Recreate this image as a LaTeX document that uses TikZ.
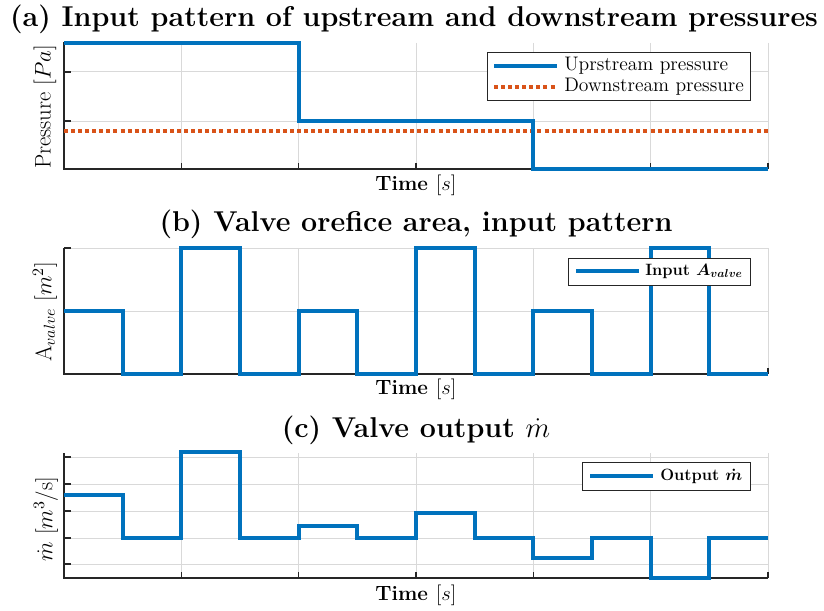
\RequirePackage{fix-cm}
\documentclass[tikz,border=0pt]{standalone}
\usepackage{fontspec}
\usepackage{amsmath}
\definecolor{mblue}{RGB}{0,114,189}
\definecolor{morange}{RGB}{217,83,25}
\definecolor{axcol}{RGB}{38,38,38}
\tikzset{
  gridline/.style={draw=black!15, line width=0.75pt},
  axisline/.style={draw=axcol, line width=1.4pt},
  tickline/.style={draw=axcol, line width=0.8pt},
  sig/.style={draw=mblue, line width=3pt},
  dotsig/.style={draw=morange, line width=3pt, dash pattern=on 3pt off 2.3pt},
  ttl/.style={font=\fontsize{21.5}{25}\selectfont\bfseries, inner sep=0pt},
  xlab/.style={font=\fontsize{15.5}{18}\selectfont\bfseries, inner sep=0pt},
  ylab/.style={font=\fontsize{17}{20}\selectfont, rotate=90, inner sep=0pt},
  legbox/.style={draw=axcol, fill=white, line width=0.75pt},
  legtxt/.style={font=\fontsize{14.7}{17}\selectfont, anchor=west, inner sep=0pt},
  legtxtb/.style={font=\fontsize{12.3}{15}\selectfont\bfseries\boldmath, anchor=west, inner sep=0pt},
}
\begin{document}
\begin{tikzpicture}[x=0.75pt,y=-0.75pt]
\useasboundingbox (0,0) rectangle (824,610);

% ---------- panel (a): pressures ----------
\foreach \x in {181.33,298.67,416,533.33,650.67,768}
  \draw[gridline] (\x,43) -- (\x,169);
\foreach \y in {72,121}
  \draw[gridline] (64,\y) -- (768,\y);
\draw[axisline] (64,42) -- (64,169) -- (768,169);
\foreach \x in {181.33,298.67,416,533.33,650.67,768}
  \draw[tickline] (\x,169) -- (\x,163);
\foreach \y in {72,121}
  \draw[tickline] (64,\y) -- (71,\y);
\draw[dotsig] (64,131) -- (768,131);
\draw[sig] (64,43) -- (298.67,43) -- (298.67,121) -- (533.33,121)
  -- (533.33,169) -- (768,169);

\node[ttl] (ta) at (414,19) {(a) Input pattern of upstream and downstream pressures};
\node[xlab] (xa) at (416,185) {Time $[s]$};
\node[ylab] (ya) at (45,107) {Pressure $[Pa]$};

\draw[legbox] (487,53) rectangle (750,100);
\draw[sig] (494,66) -- (557,66);
\draw[dotsig] (494,87) -- (557,87);
\node[legtxt] (la1) at (564,66) {Uprstream pressure};
\node[legtxt] (la2) at (564,87) {Downstream pressure};

% ---------- panel (b): valve orifice area ----------
\foreach \x in {181.33,298.67,416,533.33,650.67,768}
  \draw[gridline] (\x,248) -- (\x,374);
\foreach \y in {248,311}
  \draw[gridline] (64,\y) -- (768,\y);
\draw[axisline] (64,248) -- (64,374) -- (768,374);
\foreach \x in {181.33,298.67,416,533.33,650.67,768}
  \draw[tickline] (\x,374) -- (\x,368);
\foreach \y in {248,311}
  \draw[tickline] (64,\y) -- (71,\y);
\draw[sig] (64,311) -- (122.67,311) -- (122.67,374) -- (181.33,374)
  -- (181.33,248) -- (240,248) -- (240,374) -- (298.67,374)
  -- (298.67,311) -- (357.33,311) -- (357.33,374) -- (416,374)
  -- (416,248) -- (474.67,248) -- (474.67,374) -- (533.33,374)
  -- (533.33,311) -- (592,311) -- (592,374) -- (650.67,374)
  -- (650.67,248) -- (709.33,248) -- (709.33,374) -- (768,374);

\node[ttl] (tb) at (416,224) {(b) Valve orefice area, input pattern};
\node[xlab] (xb) at (416,389) {Time $[s]$};
\node[ylab] (yb) at (45,312) {$\mathrm{A}_{valve}$ $[m^2]$};

\draw[legbox] (568,258) rectangle (750,285);
\draw[sig] (576,271) -- (639,271);
\node[legtxtb] (lb) at (645,271) {Input $A_{valve}$};

% ---------- panel (c): valve mass flow ----------
\foreach \x in {181.33,298.67,416,533.33,650.67,768}
  \draw[gridline] (\x,453) -- (\x,578);
\foreach \y in {457,484,511,538,564}
  \draw[gridline] (64,\y) -- (768,\y);
\draw[axisline] (64,453) -- (64,578) -- (768,578);
\foreach \x in {181.33,298.67,416,533.33,650.67,768}
  \draw[tickline] (\x,578) -- (\x,572);
\foreach \y in {457,484,511,538,564}
  \draw[tickline] (64,\y) -- (71,\y);
\draw[sig] (64,495) -- (122.67,495) -- (122.67,538) -- (181.33,538)
  -- (181.33,452) -- (240,452) -- (240,538) -- (298.67,538)
  -- (298.67,525.5) -- (357.33,525.5) -- (357.33,538) -- (416,538)
  -- (416,513) -- (474.67,513) -- (474.67,538) -- (533.33,538)
  -- (533.33,558) -- (592,558) -- (592,538) -- (650.67,538)
  -- (650.67,578) -- (709.33,578) -- (709.33,538) -- (768,538);

\node[ttl] (tc) at (416,430) {(c) Valve output $\dot{m}$};
\node[xlab] (xc) at (416,595) {Time $[s]$};
\node[ylab] (yc) at (46,519) {$\dot{m}$ $[m^3/\mathrm{s}]$};

\draw[legbox] (582,462) rectangle (750,490);
\draw[sig] (590,476) -- (653,476);
\node[legtxtb] (lc) at (660,476) {Output $\dot{m}$};
\end{tikzpicture}
\end{document}
